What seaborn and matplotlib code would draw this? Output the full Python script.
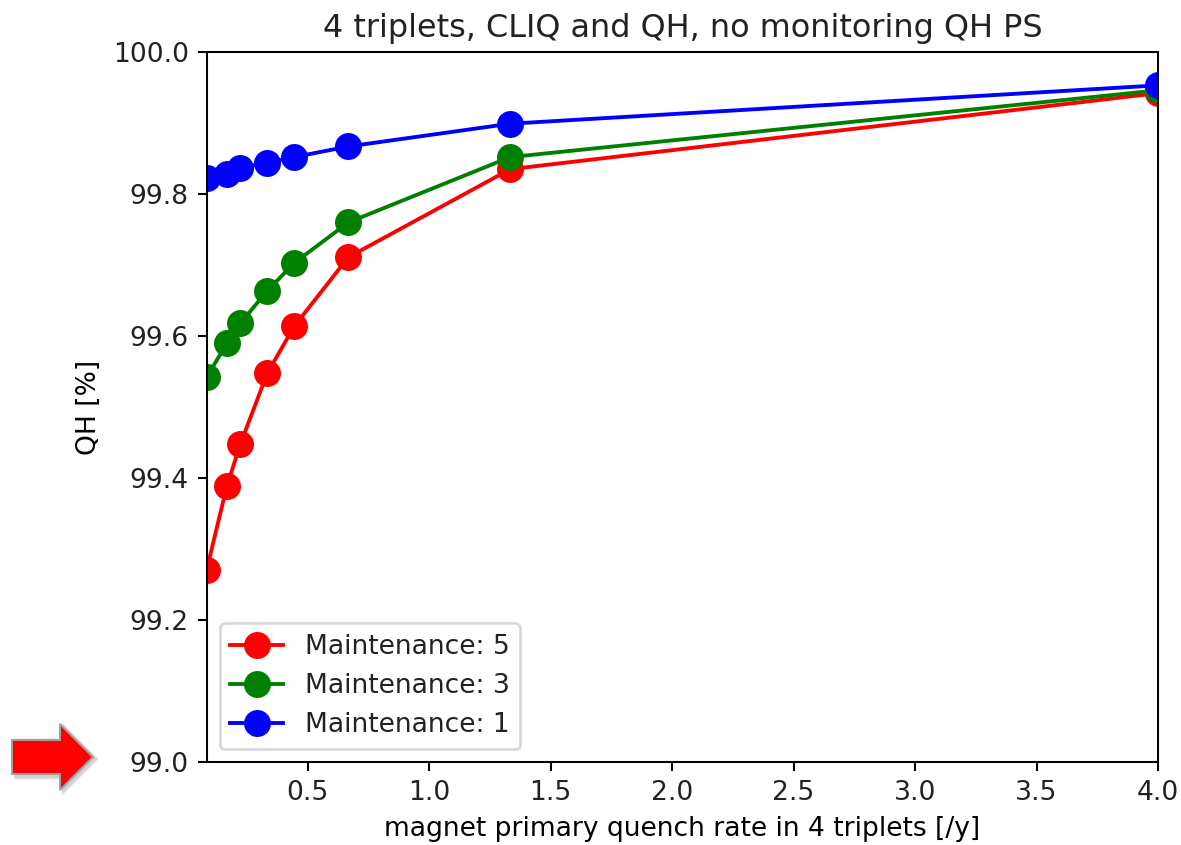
import matplotlib
matplotlib.use("Agg")
import matplotlib.pyplot as plt
from matplotlib.patches import FancyArrow
import numpy as np
import pandas as pd
import seaborn as sns

# Primary quench rate in the 4 triplets [/y]
quench_rate = [0.0833, 0.1667, 0.2222, 0.3333, 0.4444, 0.6667, 1.3333, 4.0]

# QH availability [%] for each maintenance interval
qh_maint5 = [99.271, 99.389, 99.448, 99.548, 99.614, 99.711, 99.835, 99.942]
qh_maint3 = [99.542, 99.590, 99.618, 99.664, 99.703, 99.760, 99.852, 99.946]
qh_maint1 = [99.823, 99.828, 99.837, 99.844, 99.852, 99.867, 99.899, 99.953]

series_labels = ["Maintenance: 5", "Maintenance: 3", "Maintenance: 1"]
series_colors = ["red", "green", "blue"]

x_ticks = [0.5, 1.0, 1.5, 2.0, 2.5, 3.0, 3.5, 4.0]
y_ticks = [99.0, 99.2, 99.4, 99.6, 99.8, 100.0]

frames = []
for label, vals in zip(series_labels, [qh_maint5, qh_maint3, qh_maint1]):
    frames.append(pd.DataFrame({"rate": quench_rate, "qh": vals, "series": label}))
df = pd.concat(frames, ignore_index=True)

dpi = 185
fs = 10.3
plt.rcParams["text.color"] = "#222222"
plt.rcParams["xtick.labelcolor"] = "#222222"
plt.rcParams["ytick.labelcolor"] = "#222222"

fig = plt.figure(figsize=(1181 / dpi, 845 / dpi), dpi=dpi)
ax = fig.add_axes([0.175, 0.098, 0.8055, 0.8405])

sns.lineplot(
    data=df, x="rate", y="qh", hue="series", hue_order=series_labels,
    palette=dict(zip(series_labels, series_colors)),
    marker="o", markersize=10.5, markeredgewidth=0, linewidth=1.5,
    sort=True, estimator=None, ax=ax,
)

ax.set_xlim(quench_rate[0], 4.0)
ax.set_ylim(99.0, 100.0)
ax.set_xticks(x_ticks)
ax.set_yticks(y_ticks)
ax.set_xticklabels([f"{t:.1f}" for t in x_ticks])
ax.set_yticklabels([f"{t:.1f}" for t in y_ticks])
ax.tick_params(labelsize=fs)
ax.set_title("4 triplets, CLIQ and QH, no monitoring QH PS", fontsize=12.4)
ax.set_xlabel("magnet primary quench rate in 4 triplets [/y]", fontsize=fs)
ax.set_ylabel("QH [%]", fontsize=fs)
ax.legend(loc="lower left", fontsize=fs)

# Pointer arrow in the left margin, with a soft shadow
W, H = 1181.0, 845.0
x0, yc = 12 / W, 1 - 757 / H
body_len, head_len = 48 / W, 33 / W
body_w, head_w = 34 / H, 66 / H
for k, a in [(4, 0.05), (3, 0.06), (2, 0.08)]:
    shadow = FancyArrow(
        x0 + 2 / W, yc - 2 / H, body_len, 0.0,
        width=body_w + 2 * k / H, head_width=head_w + 2 * k / H,
        head_length=head_len + k / W, length_includes_head=False,
        transform=fig.transFigure, facecolor="black", edgecolor="none",
        alpha=a, clip_on=False,
    )
    fig.patches.append(shadow)
arrow = FancyArrow(
    x0, yc, body_len, 0.0, width=body_w, head_width=head_w,
    head_length=head_len, length_includes_head=False,
    transform=fig.transFigure, facecolor="#ff0000", edgecolor="#a0a0a0",
    linewidth=0.8, clip_on=False,
)
fig.patches.append(arrow)

fig.savefig("out.png", dpi=dpi)
